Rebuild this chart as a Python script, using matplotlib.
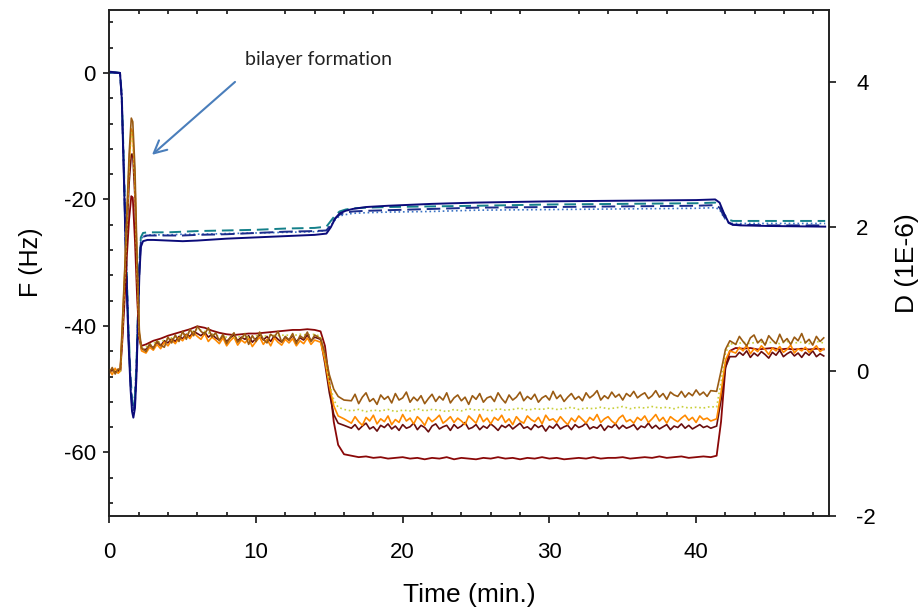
import numpy as np
import matplotlib.pyplot as plt
from matplotlib.ticker import MultipleLocator

plt.rcParams['font.family'] = ['Liberation Sans', 'DejaVu Sans']
plt.rcParams['axes.unicode_minus'] = False

# Frequency shifts (Hz), overtones sampled on a common time base (min)
tf = [0, 0.4, 0.73, 0.85, 1.0, 1.15, 1.3, 1.45, 1.55, 1.64,
      1.75, 1.85, 1.95, 2.05, 2.15, 2.3, 2.6, 3, 4, 5,
      6, 8, 10, 12, 14, 14.8, 15.1, 15.4, 15.7, 16.1,
      16.6, 17.5, 19, 22, 25, 30, 35, 40, 41.3, 41.6,
      41.9, 42.2, 42.5, 43, 45, 48.8]

f_navy = [0.2, 0.1, 0.0, -4.0, -17.0, -31.0, -42.0, -50.0, -53.5, -54.5,
          -53.0, -48.0, -40.0, -32.0, -27.5, -26.6, -26.4, -26.4, -26.5, -26.6,
          -26.5, -26.2, -26.0, -25.8, -25.6, -25.4, -24.4, -23.0, -22.2, -21.8,
          -21.5, -21.2, -21.0, -20.7, -20.5, -20.3, -20.2, -20.1, -20.0, -20.5,
          -22.2, -23.6, -24.0, -24.1, -24.2, -24.3]
f_dash = [0.1, 0.0, 0.0, -4.0, -16.0, -30.0, -41.0, -49.0, -52.5, -53.5,
          -52.0, -47.0, -39.0, -31.0, -26.8, -25.9, -25.7, -25.7, -25.7, -25.7,
          -25.6, -25.5, -25.3, -25.1, -25.0, -24.9, -24.0, -23.0, -22.4, -22.1,
          -21.9, -21.8, -21.7, -21.5, -21.3, -21.2, -21.1, -21.0, -20.9, -21.3,
          -22.7, -23.7, -24.0, -24.0, -24.1, -24.1]
f_teal = [0.0, 0.1, 0.0, -3.5, -15.0, -29.0, -40.0, -48.0, -51.5, -52.5,
          -51.0, -46.0, -38.0, -30.0, -26.0, -25.3, -25.2, -25.2, -25.2, -25.1,
          -25.0, -24.9, -24.8, -24.6, -24.5, -24.3, -23.4, -22.5, -21.9, -21.6,
          -21.4, -21.3, -21.2, -21.1, -21.0, -20.8, -20.7, -20.6, -20.5, -20.9,
          -22.3, -23.2, -23.4, -23.4, -23.4, -23.4]
f_blue = [0.1, 0.0, 0.0, -3.8, -16.0, -30.0, -41.0, -49.0, -52.0, -53.0,
          -51.5, -46.5, -38.5, -30.5, -26.5, -25.8, -25.6, -25.6, -25.6, -25.5,
          -25.5, -25.4, -25.3, -25.2, -25.1, -24.9, -24.1, -23.2, -22.6, -22.4,
          -22.2, -22.1, -22.0, -21.9, -21.7, -21.6, -21.5, -21.4, -21.3, -21.6,
          -22.9, -23.6, -23.8, -23.8, -23.8, -23.8]

# Dissipation (1E-6). Quiet overtones on a coarse time base ...
td = np.concatenate([
    [0, 0.2, 0.4, 0.6, 0.75, 0.9, 1.05, 1.2, 1.35, 1.5, 1.6, 1.75, 1.9, 2.05, 2.2],
    np.arange(2.5, 14.01, 0.5),
    [14.4, 14.7, 15.0, 15.3, 15.6, 16.0],
    np.arange(16.5, 41.01, 0.5),
    [41.4, 41.7, 42.0, 42.3],
    np.arange(42.7, 48.71, 0.5),
])

d_yellow = [
    0.0, 0.02, -0.02, 0.01, 0.0, 0.6, 1.3, 2.1, 2.9, 3.3, 3.25, 2.6, 1.4, 0.5, 0.32,
    0.34, 0.39, 0.41, 0.45, 0.47, 0.51, 0.53, 0.58, 0.55, 0.51,
    0.48, 0.47, 0.46, 0.48, 0.47, 0.49, 0.48, 0.50, 0.49, 0.50,
    0.49, 0.51, 0.50, 0.51,
    0.48, 0.20, -0.15, -0.40, -0.50, -0.53,
    -0.55, -0.53, -0.56, -0.54, -0.55, -0.53, -0.56, -0.54, -0.55, -0.52,
    -0.55, -0.53, -0.54, -0.56, -0.53, -0.55, -0.52, -0.54, -0.53, -0.55,
    -0.52, -0.54, -0.53, -0.51, -0.54, -0.52, -0.53, -0.51, -0.53, -0.52,
    -0.50, -0.53, -0.51, -0.52, -0.50, -0.52, -0.51, -0.49, -0.52, -0.50,
    -0.51, -0.49, -0.51, -0.50, -0.52, -0.49, -0.51, -0.50, -0.51, -0.49,
    -0.50, -0.15, 0.25, 0.38,
    0.37, 0.40, 0.38, 0.41, 0.39, 0.40, 0.38, 0.41, 0.39, 0.40, 0.38, 0.41, 0.39,
]
d_red = [
    0.0, 0.01, -0.01, 0.0, 0.0, 0.45, 1.0, 1.6, 2.1, 2.42, 2.4, 1.8, 1.0, 0.45, 0.35,
    0.37, 0.42, 0.45, 0.49, 0.52, 0.55, 0.58, 0.62, 0.60, 0.56,
    0.53, 0.51, 0.50, 0.51, 0.52, 0.52, 0.53, 0.54, 0.55, 0.56,
    0.57, 0.57, 0.58, 0.57,
    0.55, 0.35, -0.15, -0.70, -1.02, -1.15,
    -1.17, -1.19, -1.18, -1.20, -1.19, -1.21, -1.20, -1.19, -1.21, -1.20,
    -1.22, -1.20, -1.21, -1.19, -1.22, -1.20, -1.21, -1.22, -1.20, -1.21,
    -1.19, -1.21, -1.20, -1.22, -1.20, -1.21, -1.19, -1.21, -1.20, -1.22,
    -1.21, -1.20, -1.21, -1.19, -1.21, -1.20, -1.20, -1.19, -1.21, -1.20,
    -1.19, -1.20, -1.18, -1.20, -1.19, -1.18, -1.20, -1.19, -1.18, -1.19,
    -1.17, -0.70, 0.05, 0.28,
    0.32, 0.31, 0.32, 0.30, 0.31, 0.32, 0.30, 0.31, 0.30, 0.31, 0.30, 0.31, 0.30,
]

# ... and the noisy overtones on a finer one
tn = np.concatenate([
    [0, 0.2, 0.4, 0.6, 0.75, 0.9, 1.05, 1.2, 1.35, 1.5, 1.6, 1.75, 1.9, 2.05, 2.2],
    np.arange(2.5, 14.01, 0.25),
    [14.4, 14.7, 15.0, 15.3, 15.6, 16.0],
    np.arange(16.5, 41.01, 0.25),
    [41.4, 41.7, 42.0, 42.3],
    np.arange(42.7, 48.71, 0.25),
])

d_brown = [
    -0.02, 0.05, -0.04, 0.03, 0.02, 0.7, 1.4, 2.2, 3.0, 3.5, 3.45, 2.8, 1.5, 0.55, 0.32,
    0.27, 0.38, 0.31, 0.42, 0.36, 0.33, 0.47, 0.39, 0.50, 0.41,
    0.55, 0.44, 0.58, 0.49, 0.62, 0.55, 0.51, 0.60, 0.47, 0.53,
    0.42, 0.51, 0.38, 0.47, 0.53, 0.40, 0.45, 0.52, 0.37, 0.49,
    0.41, 0.54, 0.44, 0.39, 0.51, 0.47, 0.55, 0.40, 0.48, 0.43,
    0.52, 0.38, 0.49, 0.45, 0.54, 0.41, 0.50,
    0.45, 0.25, -0.05, -0.25, -0.35, -0.40,
    -0.41, -0.32, -0.45, -0.36, -0.30, -0.42, -0.38, -0.46, -0.33, -0.39,
    -0.35, -0.44, -0.31, -0.40, -0.37, -0.29, -0.43, -0.36, -0.41, -0.34,
    -0.45, -0.38, -0.32, -0.42, -0.35, -0.40, -0.30, -0.44, -0.37, -0.33,
    -0.41, -0.36, -0.46, -0.34, -0.39, -0.31, -0.43, -0.37, -0.35, -0.42,
    -0.30, -0.38, -0.44, -0.33, -0.40, -0.36, -0.29, -0.41, -0.35, -0.39,
    -0.32, -0.43, -0.37, -0.34, -0.40, -0.28, -0.38, -0.33, -0.42, -0.36,
    -0.31, -0.39, -0.35, -0.41, -0.30, -0.37, -0.33, -0.27, -0.40, -0.34,
    -0.38, -0.29, -0.36, -0.32, -0.40, -0.31, -0.35, -0.28, -0.37, -0.33,
    -0.30, -0.38, -0.34, -0.27, -0.36, -0.31, -0.39, -0.29, -0.33, -0.35,
    -0.28, -0.36, -0.30, -0.34, -0.26, -0.33, -0.29, -0.35, -0.27,
    -0.28, 0.0, 0.30, 0.42,
    0.37, 0.48, 0.41, 0.35, 0.46, 0.50, 0.39, 0.44, 0.36, 0.49,
    0.43, 0.38, 0.51, 0.40, 0.45, 0.37, 0.47, 0.42, 0.52, 0.39,
    0.44, 0.36, 0.48, 0.41, 0.46,
]
d_orange = [
    0.02, -0.05, 0.04, -0.03, 0.0, 0.65, 1.35, 2.1, 2.85, 3.35, 3.3, 2.6, 1.4, 0.5, 0.28,
    0.25, 0.33, 0.29, 0.37, 0.31, 0.40, 0.35, 0.43, 0.38, 0.46,
    0.42, 0.50, 0.45, 0.53, 0.48, 0.44, 0.52, 0.41, 0.47, 0.43,
    0.38, 0.46, 0.35, 0.42, 0.47, 0.36, 0.43, 0.39, 0.45, 0.34,
    0.41, 0.47, 0.37, 0.44, 0.35, 0.46, 0.40, 0.36, 0.44, 0.39,
    0.45, 0.35, 0.42, 0.38, 0.46, 0.37, 0.43,
    0.40, 0.15, -0.20, -0.48, -0.62, -0.66,
    -0.72, -0.63, -0.70, -0.75, -0.64, -0.69, -0.61, -0.73, -0.66, -0.70,
    -0.62, -0.74, -0.67, -0.71, -0.60, -0.69, -0.65, -0.73, -0.63, -0.68,
    -0.75, -0.64, -0.70, -0.66, -0.61, -0.72, -0.68, -0.63, -0.71, -0.65,
    -0.69, -0.74, -0.62, -0.67, -0.72, -0.60, -0.70, -0.65, -0.73, -0.64,
    -0.68, -0.61, -0.71, -0.66, -0.74, -0.63, -0.69, -0.72, -0.62, -0.67,
    -0.70, -0.64, -0.73, -0.61, -0.68, -0.66, -0.71, -0.63, -0.69, -0.74,
    -0.65, -0.70, -0.62, -0.67, -0.72, -0.64, -0.68, -0.60, -0.71, -0.66,
    -0.63, -0.69, -0.73, -0.65, -0.61, -0.70, -0.67, -0.72, -0.64, -0.68,
    -0.62, -0.71, -0.66, -0.60, -0.69, -0.64, -0.72, -0.63, -0.67, -0.70,
    -0.65, -0.61, -0.68, -0.64, -0.71, -0.62, -0.67, -0.65, -0.69,
    -0.66, -0.30, 0.15, 0.28,
    0.25, 0.33, 0.28, 0.36, 0.24, 0.31, 0.27, 0.35, 0.30, 0.23,
    0.32, 0.28, 0.34, 0.26, 0.30, 0.36, 0.25, 0.31, 0.28, 0.33,
    0.26, 0.30, 0.35, 0.27, 0.31,
]
d_maroon = [
    -0.03, 0.03, -0.02, 0.02, 0.0, 0.55, 1.2, 1.9, 2.6, 3.0, 3.0, 2.4, 1.3, 0.45, 0.30,
    0.30, 0.36, 0.32, 0.40, 0.35, 0.42, 0.39, 0.45, 0.41, 0.48,
    0.45, 0.51, 0.48, 0.55, 0.52, 0.49, 0.54, 0.47, 0.51, 0.46,
    0.43, 0.48, 0.41, 0.46, 0.50, 0.42, 0.47, 0.44, 0.49, 0.40,
    0.45, 0.50, 0.43, 0.48, 0.41, 0.49, 0.44, 0.40, 0.47, 0.43,
    0.49, 0.41, 0.46, 0.43, 0.50, 0.42, 0.47,
    0.44, 0.10, -0.30, -0.60, -0.72, -0.75,
    -0.79, -0.74, -0.81, -0.76, -0.72, -0.80, -0.77, -0.83, -0.75, -0.78,
    -0.73, -0.80, -0.76, -0.82, -0.74, -0.79, -0.77, -0.72, -0.81, -0.75,
    -0.78, -0.84, -0.76, -0.73, -0.80, -0.77, -0.75, -0.82, -0.74, -0.79,
    -0.76, -0.71, -0.80, -0.78, -0.74, -0.81, -0.76, -0.79, -0.73, -0.77,
    -0.82, -0.75, -0.78, -0.74, -0.80, -0.76, -0.72, -0.79, -0.77, -0.81,
    -0.74, -0.78, -0.75, -0.83, -0.76, -0.79, -0.73, -0.80, -0.77, -0.75,
    -0.81, -0.74, -0.78, -0.76, -0.72, -0.80, -0.77, -0.79, -0.74, -0.82,
    -0.76, -0.78, -0.73, -0.80, -0.75, -0.79, -0.77, -0.74, -0.81, -0.76,
    -0.78, -0.72, -0.79, -0.75, -0.80, -0.77, -0.74, -0.81, -0.76, -0.78,
    -0.73, -0.79, -0.75, -0.80, -0.77, -0.74, -0.78, -0.76, -0.79,
    -0.76, -0.40, 0.05, 0.20,
    0.20, 0.26, 0.22, 0.28, 0.19, 0.25, 0.21, 0.27, 0.23, 0.18,
    0.26, 0.22, 0.29, 0.20, 0.24, 0.27, 0.21, 0.25, 0.19, 0.26,
    0.22, 0.28, 0.20, 0.24, 0.21,
]

fig = plt.figure(figsize=(9.2, 6.09), dpi=100)
ax = fig.add_axes([0.1188, 0.1532, 0.7823, 0.8309])
ax2 = ax.twinx()

# frequency overtones on the left axis
ax.plot(tf, f_blue, color='#3B73C4', lw=1.2, ls=':')
ax.plot(tf, f_teal, color='#14808A', lw=1.4, ls=(0, (6, 3)))
ax.plot(tf, f_dash, color='#1C2C8C', lw=1.4, ls=(0, (7, 3)))
ax.plot(tf, f_navy, color='#0B0B7A', lw=1.4)

# dissipation overtones on the right axis
ax2.plot(td, d_red, color='#8A0808', lw=1.3)
ax2.plot(tn, d_maroon, color='#6A0E0E', lw=1.2)
ax2.plot(tn, d_orange, color='#FF8A00', lw=1.2)
ax2.plot(td, d_yellow, color='#C9CF3A', lw=1.2, ls=':')
ax2.plot(tn, d_brown, color='#9A5B13', lw=1.2)

ax.set_xlim(0, 49.06)
ax.set_ylim(-70, 10)
ax2.set_ylim(-2, 5)
ax2.set_yticks([-2, 0, 2, 4])

ax.xaxis.set_major_locator(MultipleLocator(10))
ax.xaxis.set_minor_locator(MultipleLocator(2))
ax.yaxis.set_major_locator(MultipleLocator(20))
ax.yaxis.set_minor_locator(MultipleLocator(4))

ax.tick_params(axis='x', which='major', direction='out', length=5, width=1.1,
               pad=14, labelsize=16, top=False)
ax.tick_params(axis='x', which='minor', direction='in', length=3, width=1.1,
               top=True, bottom=True)
ax.tick_params(axis='y', which='major', direction='out', length=4.3, width=1.1,
               pad=5.5, labelsize=16, right=False)
ax.tick_params(axis='y', which='minor', direction='in', length=3, width=1.1,
               right=False)
ax2.tick_params(axis='y', which='major', direction='out', length=5, width=1.1,
                pad=14.5, labelsize=16)

for a in (ax, ax2):
    for s in a.spines.values():
        s.set_linewidth(1.2)
        s.set_color('#222222')

ax.set_xlabel('Time (min.)', fontsize=19, labelpad=14)
ax.set_ylabel('F (Hz)', fontsize=18, labelpad=15)
ax2.set_ylabel('D (1E-6)', fontsize=19, labelpad=14)

ax.annotate('', xy=(2.91, -12.95), xytext=(8.57, -1.42),
            arrowprops=dict(arrowstyle='->, head_length=0.9, head_width=0.45',
                            color='#4A7EBB', lw=1.5, shrinkA=0, shrinkB=0))
ax.text(9.25, 2.2, 'bilayer formation', family=['Lato', 'DejaVu Sans'],
        fontsize=14, va='center', ha='left', color='#222222')

fig.savefig('out.png', dpi=100)
